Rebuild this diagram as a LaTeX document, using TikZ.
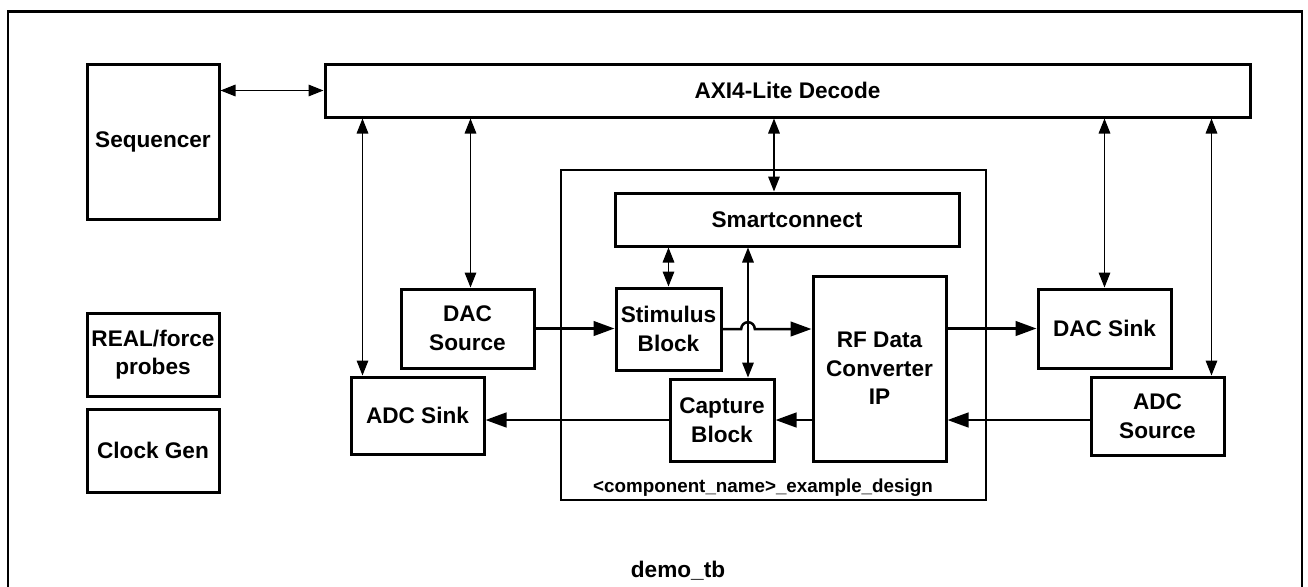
\documentclass[tikz,border=0pt]{standalone}
\usepackage{fontspec}
\setmainfont{Liberation Sans}
\usetikzlibrary{arrows.meta,calc}
\begin{document}
\begin{tikzpicture}[x=0.5pt,y=-0.5pt,
  blk/.style={draw,line width=1.5pt,align=center,inner sep=0pt,
    font=\bfseries\fontsize{11.3}{14.3}\selectfont},
  lbl/.style={inner sep=0pt,font=\bfseries\fontsize{11.3}{14.3}\selectfont},
  smalllbl/.style={inner sep=0pt,font=\bfseries\fontsize{9.4}{11}\selectfont},
  thinarr/.style={line width=0.65pt,
    {Triangle[length=7.5pt,width=5.8pt]}-{Triangle[length=7.5pt,width=5.8pt]}},
  datarr/.style={line width=1.25pt,-{Triangle[length=10.5pt,width=7.3pt]}}
]
\useasboundingbox (0,0) rectangle (1308,586);
\clip (0,0) rectangle (1308,586);
\fill[white] (0,0) rectangle (1308,586);
% outer testbench frame
\draw[line width=1.4pt] (8,11.5) rectangle (1302,650);
\node[lbl,anchor=base] (tb) at (678,577.7) {demo\_tb};

% example design container
\node[draw,line width=1.3pt,minimum width=212.5pt,minimum height=165pt,inner sep=0pt] (design) at (773.5,335) {};
\node[smalllbl,anchor=base] (dlbl) at (763,492.7) {<component\_name>\_example\_design};

% blocks
\node[blk,minimum width=66pt,minimum height=77.5pt] (seq) at (153,141.5) {Sequencer};
\node[blk,minimum width=462.5pt,minimum height=26.5pt] (axi) at (787.5,90.5) {AXI4-Lite Decode};
\node[blk,minimum width=172pt,minimum height=26.5pt] (smart) at (787,219.5) {Smartconnect};
\node[blk,minimum width=52.5pt,minimum height=41pt] (stim) at (668.5,329) {Stimulus\\Block};
\node[blk,minimum width=52pt,minimum height=41pt] (capt) at (722,420) {Capture\\Block};
\node[blk,minimum width=66.5pt,minimum height=92.5pt] (rf) at (879.5,368.5) {RF Data\\Converter\\IP};
\node[blk,minimum width=66.5pt,minimum height=39.5pt] (dacsrc) at (467.5,328.5) {DAC\\Source};
\node[blk,minimum width=66.5pt,minimum height=38.5pt] (adcsink) at (417.5,415.5) {ADC Sink};
\node[blk,minimum width=66.5pt,minimum height=39.5pt] (dacsink) at (1104.5,328.5) {DAC Sink};
\node[blk,minimum width=66.5pt,minimum height=39pt] (adcsrc) at (1157.5,416) {ADC\\Source};
\node[blk,minimum width=66pt,minimum height=41.5pt] (probes) at (153,354.5) {REAL/force\\probes};
\node[blk,minimum width=66pt,minimum height=41.5pt] (clk) at (153,450.5) {Clock Gen};

% helper coordinates
\coordinate (a1) at ($(adcsink.north west)+(6.5pt,0)$);
\coordinate (a2) at ($(dacsrc.north)+(1.5pt,0)$);
\coordinate (a3) at ($(smart.north)+(-6.5pt,0)$);
\coordinate (a5) at ($(adcsrc.north east)+(-7pt,0)$);
\coordinate (hop) at ($(capt.north)+(13pt,0)$);

% AXI control connections
\draw[thinarr] (seq.east |- axi.west) -- (axi.west);
\draw[thinarr] (a1 |- axi.south) -- (a1);
\draw[thinarr] (a2 |- axi.south) -- (a2);
\draw[thinarr] (a3 |- axi.south) -- (a3);
\draw[thinarr] (dacsink.north |- axi.south) -- (dacsink.north);
\draw[thinarr] (a5 |- axi.south) -- (a5);
\draw[thinarr] (stim.north |- smart.south) -- (stim.north);
\draw[thinarr] (hop |- smart.south) -- (hop);

% data paths
\draw[datarr] (dacsrc.east) -- (dacsrc.east -| stim.west);
\draw[datarr] (stim.east) -- ($(stim.east -| hop)+(-3.4pt,0)$)
  arc[start angle=180,end angle=0,radius=3.4pt] -- (stim.east -| rf.west);
\draw[datarr] (rf.east |- dacsink.west) -- (dacsink.west);
\draw[datarr] (rf.west |- capt.east) -- (capt.east);
\draw[datarr] (capt.west) -- (capt.west -| adcsink.east);
\draw[datarr] (adcsrc.west |- capt.east) -- (rf.east |- capt.east);
\end{tikzpicture}
\end{document}
